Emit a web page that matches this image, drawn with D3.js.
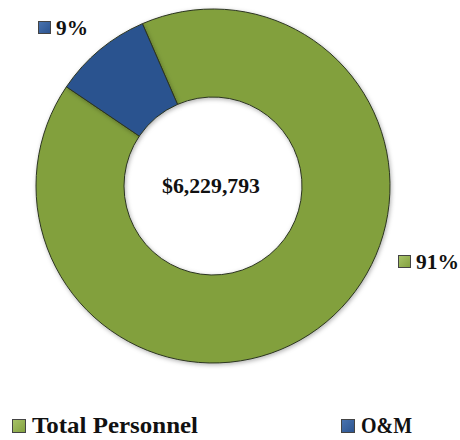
<!DOCTYPE html>
<html><head><meta charset="utf-8">
<script src="https://cdn.jsdelivr.net/npm/d3@7"></script>
<style>body{margin:0;background:#fff}svg{display:block}</style>
</head><body>
<svg id="c" width="460" height="440"></svg>
<script>
const categories = ["Total Personnel", "O&M"];
const percents = [91, 9];
const totalLabel = "$6,229,793";
const colors = ["#82A03E", "#2B538F"];
const lightColors = ["#A9C46A", "#4A74B0"];

const W = 460, H = 440;
const cx = 213, cy = 186, R = 177, r = 89;
const startDeg = -23.5;
const FONT = "'Liberation Serif','Times New Roman',serif";

const svg = d3.select("#c");
const defs = svg.append("defs");
const f = defs.append("filter").attr("id","sh").attr("x","-20%").attr("y","-20%").attr("width","140%").attr("height","140%");
f.append("feDropShadow").attr("dx",1).attr("dy",1.5).attr("stdDeviation",2).attr("flood-color","#000").attr("flood-opacity",0.3);
categories.forEach((c,i)=>{
  const g = defs.append("linearGradient").attr("id","lg"+i).attr("x1",0).attr("y1",0).attr("x2",1).attr("y2",1);
  g.append("stop").attr("offset","0%").attr("stop-color",lightColors[i]);
  g.append("stop").attr("offset","100%").attr("stop-color",colors[i]);
});

const pie = d3.pie().sort(null).value(d=>d.v)
  .startAngle(startDeg*Math.PI/180).endAngle(startDeg*Math.PI/180 + 2*Math.PI);
const data = categories.map((c,i)=>({c, v: percents[i], i}));
const arcs = pie(data);
const arc = d3.arc().innerRadius(r).outerRadius(R);

const g = svg.append("g").attr("transform",`translate(${cx},${cy})`);
g.selectAll("path").data(arcs).join("path")
  .attr("d", arc)
  .attr("fill", d=>colors[d.data.i])
  .attr("stroke", "#2c3520")
  .attr("stroke-width", 1)
  .attr("stroke-linejoin","round")
  .attr("filter","url(#sh)");

g.append("text").attr("x",-2).attr("y",7).attr("text-anchor","middle")
  .attr("font-family",FONT).attr("font-weight","bold").attr("font-size",20)
  .attr("textLength",98).attr("lengthAdjust","spacingAndGlyphs")
  .attr("fill","#111").text(totalLabel);

// data labels
const labelPos = [{x:398, y:255, w:43}, {x:38, y:21, w:32}];
arcs.forEach((a,k)=>{
  const p = labelPos[k];
  svg.append("rect").attr("x",p.x+0.5).attr("y",p.y+0.5).attr("width",12).attr("height",12)
    .attr("fill",`url(#lg${a.data.i})`).attr("stroke","#444").attr("stroke-width",1);
  svg.append("text").attr("x",p.x+18).attr("y",p.y+14)
    .attr("font-family",FONT).attr("font-weight","bold").attr("font-size",21).attr("fill","#111")
    .attr("textLength",p.w).attr("lengthAdjust","spacingAndGlyphs")
    .text(d3.format("d")(a.data.v)+"%");
});

// legend
const legX = [12, 341];
const legW = [166, 51];
categories.forEach((c,i)=>{
  svg.append("rect").attr("x",legX[i]+0.5).attr("y",419.5).attr("width",13).attr("height",13)
    .attr("fill",`url(#lg${i})`).attr("stroke","#444").attr("stroke-width",1);
  svg.append("text").attr("x",legX[i]+20).attr("y",433)
    .attr("font-family",FONT).attr("font-weight","bold").attr("font-size",24).attr("fill","#111")
    .attr("textLength",legW[i]).attr("lengthAdjust","spacingAndGlyphs")
    .text(c);
});
</script>
</body></html>
